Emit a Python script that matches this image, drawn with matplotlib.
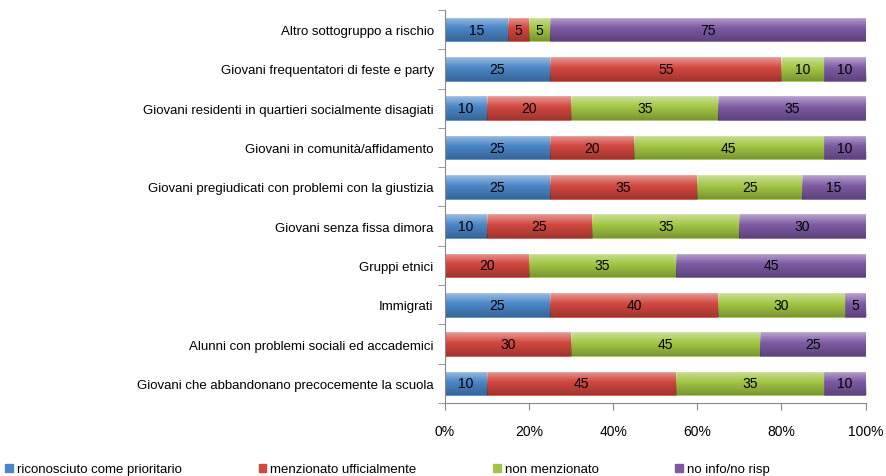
import numpy as np
import matplotlib.pyplot as plt
from matplotlib.patches import Patch

plt.rcParams['font.family'] = ['Liberation Sans', 'DejaVu Sans']

categories = [
    "Altro sottogruppo a rischio",
    "Giovani frequentatori di feste e party",
    "Giovani residenti in quartieri socialmente disagiati",
    "Giovani in comunità/affidamento",
    "Giovani pregiudicati con problemi con la giustizia",
    "Giovani senza fissa dimora",
    "Gruppi etnici",
    "Immigrati",
    "Alunni con problemi sociali ed accademici",
    "Giovani che abbandonano precocemente la scuola",
]
riconosciuto = [15, 25, 10, 25, 25, 10, 0, 25, 0, 10]
menzionato = [5, 55, 20, 20, 35, 25, 20, 40, 30, 45]
non_menzionato = [5, 10, 35, 45, 25, 35, 35, 30, 45, 35]
no_info = [75, 10, 35, 10, 15, 30, 45, 5, 25, 10]

series_names = ["riconosciuto come prioritario", "menzionato ufficialmente",
                "non menzionato", "no info/no risp"]
series = [riconosciuto, menzionato, non_menzionato, no_info]
colors = ["#4a86c8", "#d2473f", "#a2c644", "#7d5aa3"]

fig = plt.figure(figsize=(8.86, 4.77), dpi=100)
ax = fig.add_axes([0.502, 0.153, 0.475, 0.824])

y = np.arange(len(categories))[::-1]

# gloss overlay: light on top, darker at the bottom
n = 50
t = np.linspace(0, 1, n)[:, None]
overlay = np.zeros((n, 1, 4))
top = t < 0.45
overlay[top[:, 0], 0, :3] = 1.0
overlay[top[:, 0], 0, 3] = 0.45 * (1 - t[top] / 0.45)
overlay[~top[:, 0], 0, 3] = 0.25 * ((t[~top] - 0.45) / 0.55)

left = np.zeros(len(categories))
for name, vals, col in zip(series_names, series, colors):
    vals = np.array(vals, dtype=float)
    bars = ax.barh(y, vals, left=left, height=0.6, color=col,
                   edgecolor=col, linewidth=0.5, label=name)
    for b, v in zip(bars, vals):
        if v <= 0:
            continue
        x0, y0 = b.get_x(), b.get_y()
        im = ax.imshow(overlay, extent=(x0, x0 + b.get_width(), y0, y0 + b.get_height()),
                       aspect='auto', origin='upper', zorder=2.1, interpolation='bilinear')
        im.set_clip_path(b)
        ax.text(x0 + b.get_width() / 2, y0 + b.get_height() / 2, f"{int(v)}",
                ha='center', va='center', fontsize=10, zorder=3)
    left += vals

ax.set_xlim(0, 100)
ax.set_ylim(-0.5, len(categories) - 0.5)
ax.set_xticks(np.arange(0, 101, 20))
ax.set_xticklabels([f"{v}%" for v in range(0, 101, 20)], fontsize=10)
ax.set_yticks(y)
ax.set_yticklabels(categories, fontsize=9.5)
ax.tick_params(axis='y', length=0, pad=8)
ax.set_yticks(np.arange(-0.5, len(categories), 1), minor=True)
ax.tick_params(axis='y', which='minor', length=5, color='#888888')
ax.tick_params(axis='x', length=5, color='#888888', pad=10)
for s in ['top', 'right']:
    ax.spines[s].set_visible(False)
for s in ['left', 'bottom']:
    ax.spines[s].set_color('#888888')
ax.set_axisbelow(True)

handles = [Patch(facecolor=c, edgecolor=c) for c in colors]
fig.legend(handles, series_names, loc='lower left', bbox_to_anchor=(0.0, -0.01),
           ncol=4, frameon=False, fontsize=9.5, handlelength=0.6, handleheight=0.6,
           handletextpad=0.3, columnspacing=5.8, borderaxespad=0.0)

fig.savefig("out.png", dpi=100)
